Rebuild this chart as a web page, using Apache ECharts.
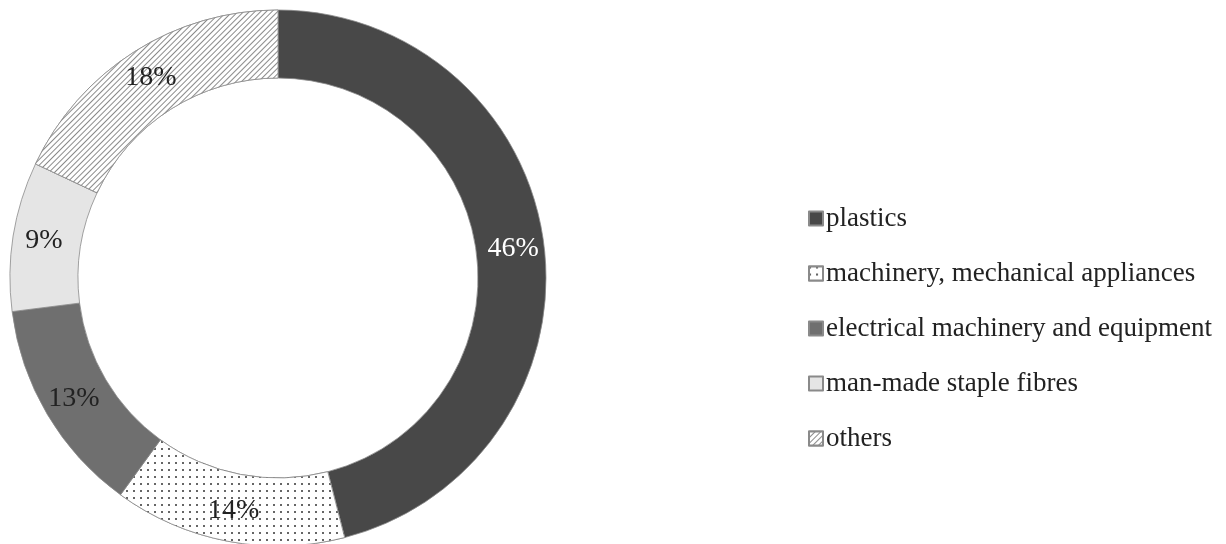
<!DOCTYPE html>
<html>
<head>
    <meta charset="utf-8">
    <title>ECharts</title>
    <script src="https://cdn.jsdelivr.net/npm/echarts@6/dist/echarts.min.js"></script>
    <style>
        html, body { margin: 0; padding: 0; background: #fff; }
    </style>
</head>
<body>
<div id="main" style="width: 1226px;height:544px;"></div>
<script type="text/javascript">
    var categories = ['plastics', 'machinery, mechanical appliances', 'electrical machinery and equipment', 'man-made staple fibres', 'others'];
    var shares = [46, 14, 13, 9, 18];
    var labelColors = ['#fff', '#222', '#222', '#222', '#222'];

    // fills: solid greys, dotted and hatched patterns
    var fills = [
        { color: '#484848' },
        { color: '#fff', decal: { symbol: 'circle', symbolSize: 1, dashArrayX: [2, 5], dashArrayY: [2, 5], color: '#333', backgroundColor: '#fff' } },
        { color: '#6f6f6f' },
        { color: '#e5e5e5' },
        { color: '#fff', decal: { symbol: 'rect', symbolSize: 1, dashArrayX: [1, 0], dashArrayY: [1, 3], rotation: -Math.PI / 4, color: '#8a8a8a', backgroundColor: '#fff' } }
    ];

    var myChart = echarts.init(document.getElementById('main'));

    var pieData = categories.map(function (name, i) {
        return {
            name: name,
            value: shares[i],
            itemStyle: fills[i],
            label: { color: labelColors[i] }
        };
    });

    var option = {
        backgroundColor: '#fff',
        animation: false,
        legend: {
            orient: 'vertical',
            left: 803,
            top: 200,
            itemWidth: 14,
            itemHeight: 14,
            itemGap: 28,
            icon: 'rect',
            textStyle: {
                fontFamily: 'Liberation Serif',
                fontSize: 27,
                color: '#222',
                padding: [0, 0, 0, -2]
            },
            data: categories
        },
        series: [{
            type: 'pie',
            center: [278, 278],
            radius: [200, 268],
            startAngle: 90,
            clockwise: true,
            avoidLabelOverlap: false,
            itemStyle: { borderColor: '#8a8a8a', borderWidth: 0.8 },
            label: {
                position: 'inside',
                formatter: '{c}%',
                fontFamily: 'Liberation Serif',
                fontSize: 28
            },
            labelLine: { show: false },
            emphasis: { disabled: true },
            data: pieData
        }]
    };

    myChart.setOption(option);
</script>
</body>
</html>
